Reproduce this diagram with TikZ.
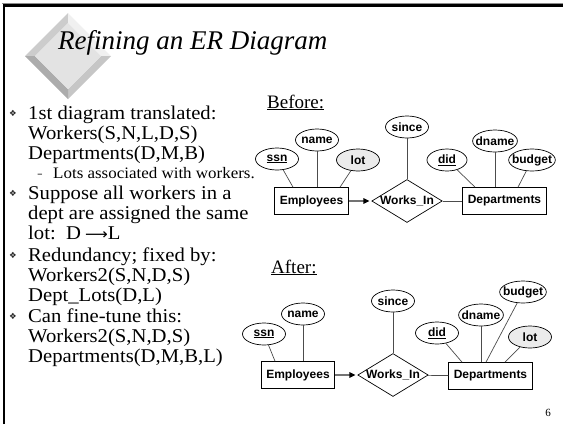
\documentclass[tikz,border=0pt]{standalone}
\usepackage{fontspec}
\setmainfont{Liberation Serif}
\setsansfont{Liberation Sans}
\newfontfamily\dingfont{DejaVu Sans}
\usetikzlibrary{shapes.geometric,arrows.meta}
\definecolor{erline}{gray}{0.3}
\definecolor{lotfill}{gray}{0.92}

\begin{document}
\begin{tikzpicture}[x=1pt,y=-1pt,
  txt/.style={anchor=base west,inner sep=0pt,xscale=1.06,transform shape,font=\fontsize{19.5}{20}\selectfont},
  subtxt/.style={anchor=base west,inner sep=0pt,xscale=1.06,transform shape,font=\fontsize{16}{17}\selectfont},
  bul/.style={inner sep=0pt,text=black!85,font=\dingfont\fontsize{8.5}{8.5}\selectfont},
  ent/.style={draw,rectangle,line width=0.7pt,inner xsep=5pt,minimum height=27pt,font=\sffamily\bfseries\fontsize{12}{14}\selectfont},
  attr/.style={draw,ellipse,line width=0.7pt,inner xsep=-3.5pt,inner ysep=0pt,minimum width=43pt,minimum height=22pt,font=\sffamily\bfseries\fontsize{12}{14}\selectfont},
  rel/.style={draw,diamond,line width=0.7pt,aspect=1.64,inner sep=0pt,font=\sffamily\bfseries\fontsize{12}{14}\selectfont},
  er/.style={draw=erline,line width=0.7pt},
  isa/.style={draw=black!55,line width=1.4pt,-{Triangle[length=6pt,width=5.5pt,black]},shorten >=2pt}]
\useasboundingbox (0,0) rectangle (563,424);

% frame
\draw[black!45,line width=0.6pt] (2,3) -- (563,3);
\draw[line width=2.5pt] (4,424) -- (4,5.5) -- (563,5.5);

% logo
\fill[gray!40] (25,56) -- (68,13) -- (68,23) -- (35,56) -- cycle;
\fill[gray!12] (68,13) -- (111,56) -- (101,56) -- (68,23) -- cycle;
\fill[gray!45] (111,56) -- (68,99) -- (68,89) -- (101,56) -- cycle;
\fill[gray!65] (68,99) -- (25,56) -- (35,56) -- (68,89) -- cycle;
\fill[gray!22] (68,23) -- (101,56) -- (68,89) -- (35,56) -- cycle;

\node[anchor=base west,inner sep=0pt,font=\itshape\fontsize{27}{31}\selectfont] (title) at (58,49) {Refining an ER Diagram};

% left column
\node[bul] (b1) at (13,113) {❖};
\node[txt] (t1) at (28,119) {1st diagram translated:};
\node[txt] (t2) at (28,139) {Workers(S,N,L,D,S)};
\node[txt] (t3) at (28,159) {Departments(D,M,B)};
\node[subtxt,text=black!60] (d1) at (37,178) {-};
\node[subtxt] (s1) at (53,178) {Lots associated with workers.};
\node[bul] (b2) at (13,193) {❖};
\node[txt] (t4) at (28,199) {Suppose all workers in a};
\node[txt] (t5) at (28,219) {dept are assigned the same};
\node[txt] (t6) at (28,239) {lot:\hspace{0.5em}D\hspace{0.2em}{\dingfont\fontsize{15}{15}\selectfont ⟶}L};
\node[bul] (b3) at (13,255) {❖};
\node[txt] (t7) at (28,261) {Redundancy; fixed by:};
\node[txt] (t8) at (28,281) {Workers2(S,N,D,S)};
\node[txt] (t9) at (28,301) {Dept\_Lots(D,L)};
\node[bul] (b4) at (13,316) {❖};
\node[txt] (t10) at (28,322) {Can fine-tune this:};
\node[txt] (t11) at (28,342) {Workers2(S,N,D,S)};
\node[txt] (t12) at (28,362) {Departments(D,M,B,L)};

% before
\node[anchor=base west,inner sep=0pt,font=\fontsize{19}{20}\selectfont] (before) at (267,108) {\underline{Before:}};
\node[ent] (emp1) at (311.5,201) {Employees};
\node[rel] (works1) at (407,201) {Works\_In};
\node[ent] (dept1) at (504.5,201) {Departments};
\node[attr] (ssn1) at (277,159) {\underline{ssn}};
\node[attr] (name1) at (317,140) {name};
\node[attr,fill=lotfill] (lot1) at (358,160) {lot};
\node[attr] (since1) at (407,127) {since};
\node[attr,minimum width=40pt] (did1) at (447,160) {\underline{did}};
\node[attr] (dname1) at (495,141) {dname};
\node[attr] (budget1) at (532,160) {budget};

\draw[er] (ssn1) -- ([xshift=-18.5pt]emp1.north);
\draw[er] (name1) -- (name1 |- emp1.north);
\draw[er] (lot1) -- ([xshift=28.5pt]emp1.north);
\draw[er] (since1) -- (works1);
\draw[er] (did1) -- ([xshift=-29.5pt]dept1.north);
\draw[er] (dname1) -- (dname1 |- dept1.north);
\draw[er] (budget1) -- ([xshift=13.5pt]dept1.north);
\draw[isa] (emp1) -- (works1);
\draw[er] (works1) -- (dept1);

% after
\node[anchor=base west,inner sep=0pt,font=\fontsize{19}{20}\selectfont] (after) at (271,273) {\underline{After:}};
\node[ent] (emp2) at (298,375) {Employees};
\node[rel] (works2) at (393,375) {Works\_In};
\node[ent] (dept2) at (490.5,376) {Departments};
\node[attr] (ssn2) at (264,334) {\underline{ssn}};
\node[attr] (name2) at (303,314) {name};
\node[attr] (since2) at (393,301) {since};
\node[attr] (did2) at (437,333) {\underline{did}};
\node[attr] (dname2) at (481,315) {dname};
\node[attr] (budget2) at (523,292) {budget};
\node[attr,fill=lotfill] (lot2) at (530,337) {lot};

\draw[er] (ssn2) -- ([xshift=-23pt]emp2.north);
\draw[er] (name2) -- (name2 |- emp2.north);
\draw[er] (since2) -- (works2);
\draw[er] (did2) -- ([xshift=-28.5pt]dept2.north);
\draw[er] (dname2) -- (dname2 |- dept2.north);
\draw[er] (budget2) -- ([xshift=-4.5pt]dept2.north);
\draw[er] (lot2) -- ([xshift=14.5pt]dept2.north);
\draw[isa] (emp2) -- (works2);
\draw[er] (works2) -- (dept2);

\node[inner sep=0pt,font=\fontsize{11}{12}\selectfont] (page) at (548,413) {6};
\end{tikzpicture}
\end{document}
